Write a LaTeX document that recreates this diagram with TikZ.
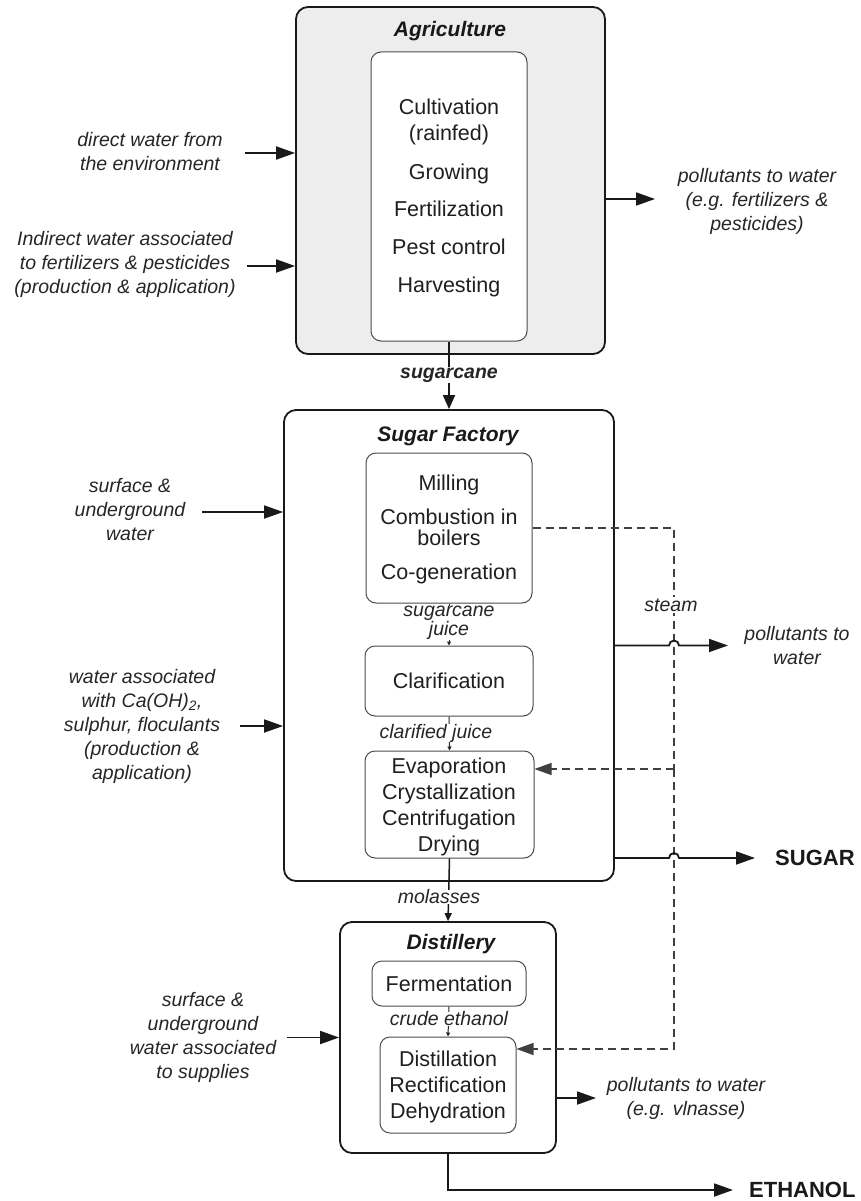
\documentclass[tikz,border=0pt]{standalone}
\usepackage{fontspec}
\setmainfont{Liberation Sans}
\usetikzlibrary{arrows.meta}
\begin{document}
\begin{tikzpicture}[x=1pt,y=-1pt,
  outerbox/.style={draw=black!90, line width=1.8pt, rounded corners=12pt, inner sep=0pt},
  innerbox/.style={draw=black!70, line width=1pt, rounded corners=10pt, fill=white, inner sep=0pt},
  btxt/.style={anchor=base, font=\fontsize{21.5}{26}\selectfont, text=black!88, inner sep=0pt},
  ttl/.style={anchor=base, font=\fontsize{21}{25}\selectfont\bfseries\itshape, text=black!90, inner sep=0pt},
  lbl/.style={font=\fontsize{19.5}{24}\selectfont\itshape, align=center, text=black!85, inner sep=1pt},
  flowline/.style={line width=1.8pt, draw=black!90},
  bigarr/.style={flowline, -{Triangle[length=19pt,width=13pt]}},
  smallarr/.style={line width=1pt, draw=black!85},
  steamline/.style={line width=1.3pt, draw=black!75, dash pattern=on 8pt off 5pt},
  steamarr/.style={steamline, -{Triangle[length=17pt,width=12pt]}},
  prod/.style={anchor=west, font=\fontsize{22}{26}\selectfont\bfseries, text=black!90, inner sep=0pt}
]
\useasboundingbox (0,0) rectangle (861,1201);

% ---------------- Agriculture ----------------
\node[outerbox, fill=black!7, minimum width=309pt, minimum height=347pt] (agri) at (450.5,180.5) {};
\node[innerbox, minimum width=156pt, minimum height=289pt] (agriin) at (449,196.5) {};
\node[ttl] (agrit) at (450,37) {Agriculture};
\node[btxt] (a1) at (449,115) {Cultivation};
\node[btxt] (a2) at (449,141) {(rainfed)};
\node[btxt] (a3) at (449,179) {Growing};
\node[btxt] (a4) at (449,216) {Fertilization};
\node[btxt] (a5) at (449,254) {Pest control};
\node[btxt] (a6) at (449,292) {Harvesting};

% ---------------- Sugar Factory ----------------
\node[outerbox, fill=white, minimum width=330pt, minimum height=471pt] (sf) at (449,645.5) {};
\node[ttl] (sft) at (448,441) {Sugar Factory};
\node[innerbox, minimum width=166pt, minimum height=150pt] (mill) at (449,528) {};
\node[btxt] (m1) at (449,490) {Milling};
\node[btxt] (m2) at (449,524) {Combustion in};
\node[btxt] (m3) at (449,545) {boilers};
\node[btxt] (m4) at (449,579) {Co-generation};
\node[innerbox, minimum width=168pt, minimum height=70pt] (clar) at (449,681) {};
\node[btxt] (c1) at (449,688) {Clarification};
\node[innerbox, minimum width=169pt, minimum height=107pt] (evap) at (449.5,804.5) {};
\node[btxt] (e1) at (449,773) {Evaporation};
\node[btxt] (e2) at (449,799) {Crystallization};
\node[btxt] (e3) at (449,825) {Centrifugation};
\node[btxt] (e4) at (449,851) {Drying};

% ---------------- Distillery ----------------
\node[outerbox, fill=white, minimum width=216pt, minimum height=231pt] (dist) at (448,1037.5) {};
\node[ttl] (distt) at (451,949) {Distillery};
\node[innerbox, minimum width=154pt, minimum height=45pt] (ferm) at (449,983.5) {};
\node[btxt] (f1) at (449,991) {Fermentation};
\node[innerbox, minimum width=136pt, minimum height=96pt] (dsl) at (448,1085) {};
\node[btxt] (d1) at (448,1066) {Distillation};
\node[btxt] (d2) at (448,1092) {Rectification};
\node[btxt] (d3) at (448,1118) {Dehydration};

% ---------------- side labels ----------------
\node[lbl] (dwl) at (150,152) {direct water from\\the environment};
\node[lbl] (iwl) at (125,264) {Indirect water associated\\to fertilizers \& pesticides\\(production \& application)};
\node[lbl] (pal) at (757,201) {pollutants to water\\(e.g. fertilizers \&\\pesticides)};
\node[lbl] (suw) at (130,510) {surface \&\\underground\\water};
\node[lbl] (wac) at (142,726) {water associated\\with Ca(OH)\textsubscript{2},\\sulphur, floculants\\(production \&\\application)};
\node[lbl] (psl) at (797,646) {pollutants to\\water};
\node[lbl] (dil) at (203,1037) {surface \&\\underground\\water associated\\to supplies};
\node[lbl] (pdl) at (686,1098) {pollutants to water\\(e.g. vlnasse)};

% ---------------- coordinates ----------------
\coordinate (dws) at (245,153);
\coordinate (iws) at (247,266);
\coordinate (pat) at (655,199);
\coordinate (sus) at (202,512);
\coordinate (wacs) at (240,726);
\coordinate (pst) at (728,645.5);
\coordinate (sgt) at (755,858);
\coordinate (dis) at (287,1037.5);
\coordinate (pds) at (556,1098);
\coordinate (pdt) at (596,1098);
\coordinate (etht) at (733,1190);
\coordinate (st1) at (674,528);
\coordinate (st2) at (674,769);
\coordinate (st3) at (674,1049);

% ---------------- inputs / outputs ----------------
\draw[bigarr] (dws) -- (dws -| agri.west);
\draw[bigarr] (iws) -- (iws -| agri.west);
\draw[bigarr] (pat -| agri.east) -- (pat);
\draw[bigarr] (sus) -- (sus -| sf.west);
\draw[bigarr] (wacs) -- (wacs -| sf.west);
\draw[bigarr] (dis) -- (dis -| dist.west);
\draw[bigarr] (pds) -- (pdt);

% ---------------- steam (dashed) ----------------
\draw[steamline] (mill.east) -- (st1) -- (st2);
\draw[steamarr] (st2) -- (st3) -- (st3 -| dsl.east);
\draw[steamarr] (st2) -- (st2 -| evap.east);

% outputs with hops over the steam line
\draw[bigarr] (sf.east) -- (669,645.5) arc[start angle=180, end angle=0, radius=5pt] -- (pst);
\draw[bigarr] (sf.east |- sgt) -- (669,858) arc[start angle=180, end angle=0, radius=5pt] -- (sgt);
\draw[bigarr] (dist.south) |- (etht);

\node[lbl, fill=white, inner sep=2pt] (stl) at (671,605) {steam};
\node[prod] (sugar) at (775,858) {SUGAR};
\node[prod] (eth) at (749,1190) {ETHANOL};

% ---------------- main flow ----------------
\draw[flowline, -{Triangle[length=14pt,width=12pt]}] (agriin.south) -- (sf.north);
\node[lbl, font=\fontsize{19.5}{24}\selectfont\bfseries\itshape, fill=white] (scl) at (449,375) {sugarcane};

\draw[smallarr, -{Triangle[length=4pt,width=4pt]}] (mill.south) -- (clar.north);
\node[lbl, fill=white, inner sep=0pt, font=\fontsize{19.5}{18}\selectfont\itshape] (sjl) at (449,623) {sugarcane\\juice};

\draw[smallarr, -{Triangle[length=4pt,width=4pt]}] (clar.south) -- (evap.north);
\node[lbl, fill=white, inner sep=0pt] (cjl) at (436,733) {clarified juice};

\draw[flowline, line width=1.5pt, -{Triangle[length=8pt,width=7pt]}] (evap.south) -- (dist.north);
\node[lbl, fill=white, inner sep=0pt] (mol) at (439,897) {molasses};

\draw[smallarr, -{Triangle[length=4pt,width=4pt]}] (ferm.south) -- (dsl.north);
\node[lbl, fill=white, inner sep=0pt] (cel) at (449,1019) {crude ethanol};

\end{tikzpicture}
\end{document}
